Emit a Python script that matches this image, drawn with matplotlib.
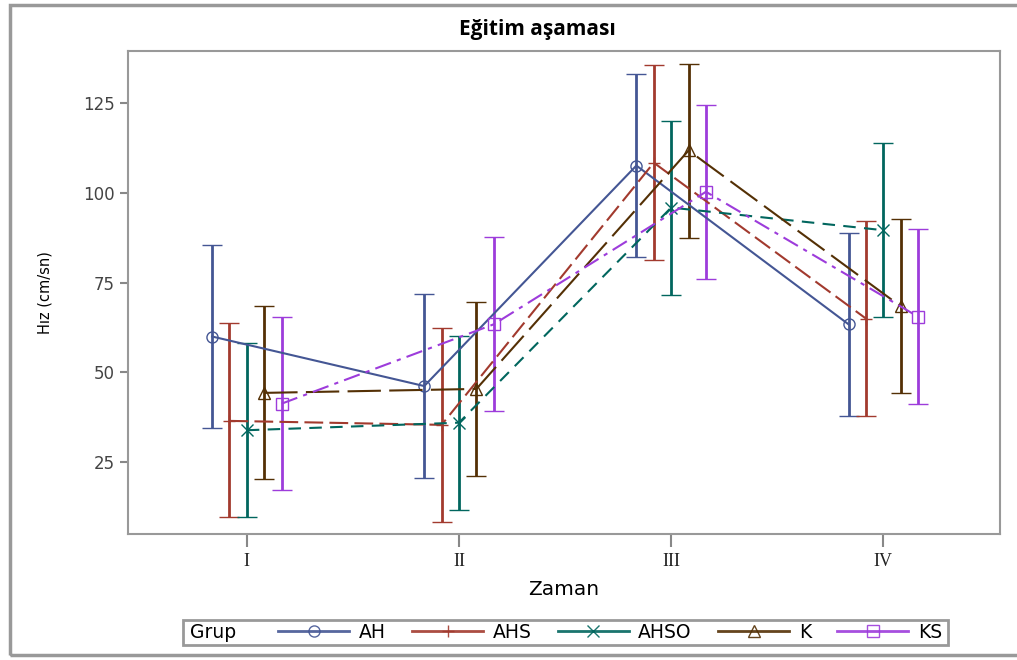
import matplotlib.pyplot as plt
from matplotlib.lines import Line2D
from matplotlib.patches import Rectangle

# time points and groups
zaman = ['I', 'II', 'III', 'IV']
gruplar = ['AH', 'AHS', 'AHSO', 'K', 'KS']

# group means with lower / upper error limits per time point
ah_mean = [60.0, 46.2, 107.6, 63.4]
ah_lo = [34.4, 20.6, 82.2, 37.9]
ah_hi = [85.4, 71.8, 133.1, 88.9]

ahs_mean = [36.5, 35.4, 108.4, 65.0]
ahs_lo = [9.6, 8.4, 81.3, 37.9]
ahs_hi = [63.8, 62.4, 135.6, 92.1]

ahso_mean = [33.9, 36.0, 95.9, 89.6]
ahso_lo = [9.8, 11.8, 71.5, 65.3]
ahso_hi = [58.1, 60.2, 120.1, 113.8]

k_mean = [44.3, 45.4, 111.8, 68.4]
k_lo = [20.2, 21.1, 87.5, 44.3]
k_hi = [68.5, 69.5, 135.9, 92.6]

ks_mean = [41.3, 63.4, 100.3, 65.5]
ks_lo = [17.2, 39.2, 76.0, 41.3]
ks_hi = [65.5, 87.7, 124.4, 89.8]

means = [ah_mean, ahs_mean, ahso_mean, k_mean, ks_mean]
lows = [ah_lo, ahs_lo, ahso_lo, k_lo, ks_lo]
highs = [ah_hi, ahs_hi, ahso_hi, k_hi, ks_hi]

colors = ['#445694', '#A23A2E', '#01665E', '#543005', '#9D3CDB']
markers = ['o', '+', 'x', '^', 's']
styles = ['-', (0, (9, 3)), (0, (6, 4)), (0, (16, 4)), (0, (8, 3, 2, 3))]

fig = plt.figure(figsize=(10.17, 6.6), dpi=100)
ax = fig.add_axes([0.1259, 0.1909, 0.8574, 0.7318])

dx = 0.082
for i, g in enumerate(gruplar):
    xs = [j + 1 + (i - 2) * dx for j in range(len(zaman))]
    m = means[i]
    yerr = [[m[j] - lows[i][j] for j in range(4)], [highs[i][j] - m[j] for j in range(4)]]
    ax.errorbar(xs, m, yerr=yerr, color=colors[i], linestyle=styles[i], linewidth=1.5,
                marker=markers[i], markersize=8, mfc='none', mec=colors[i], mew=1.0,
                elinewidth=2.0, capsize=7.5, capthick=2.0)

ax.set_xlim(0.44, 4.55)
ax.set_ylim(5, 139.5)
ax.set_xticks([1, 2, 3, 4])
ax.set_xticklabels(zaman, family='Liberation Serif', fontsize=13, color='#222222')
ax.set_yticks([25, 50, 75, 100, 125])
ax.tick_params(axis='y', labelsize=12, labelcolor='#444444', color='#888888', length=6, width=1.5)
ax.tick_params(axis='x', color='#888888', length=9, width=1.5, pad=5)
for s in ax.spines.values():
    s.set_color('#999999')
    s.set_linewidth(1.5)

ax.set_xlabel('Zaman', fontsize=14.5, family='DejaVu Sans', labelpad=7)
ax.set_ylabel('Hız (cm/sn)', fontsize=10.5, labelpad=22)
fig.text(537 / 1017, 1 - 30 / 660, 'Eğitim aşaması', ha='center', va='center',
         fontsize=15, fontweight='bold', family='Open Sans')

# legend row: box with "Grup" caption, then one entry per group
handles = [Line2D([], [], color=colors[i], linewidth=2, marker=markers[i], markersize=8,
                  mfc='none', mec=colors[i], alpha=0.9) for i in range(len(gruplar))]
leg = fig.legend(handles, gruplar, loc='center', bbox_to_anchor=(610 / 1017, 1 - 632 / 660), ncol=5,
                 fontsize=13.5, frameon=False, handlelength=3.8,
                 handletextpad=0.5, columnspacing=1.4, borderpad=0.2)
fig.patches.append(Rectangle((183 / 1017, 1 - 645 / 660), 765 / 1017, 25 / 660,
                             transform=fig.transFigure, fill=False,
                             edgecolor='#999999', linewidth=2.0))
fig.text(190 / 1017, 1 - 632 / 660, 'Grup', ha='left', va='center', fontsize=13.5)

# outer frame
fig.patches.append(Rectangle((10 / 1017, 5 / 660), 1.0, 650 / 660, transform=fig.transFigure,
                             fill=False, edgecolor='#999999', linewidth=2.5))

fig.savefig('out.png', dpi=100)
